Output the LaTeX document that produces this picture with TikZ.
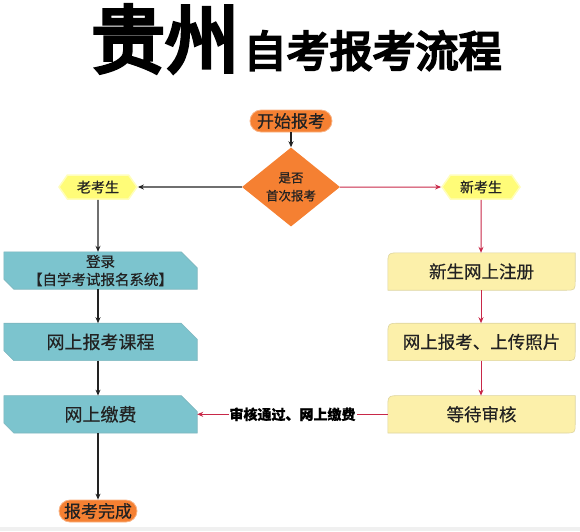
\documentclass[tikz,border=0pt]{standalone}
\usepackage{fontspec}
\setmainfont{Noto Sans CJK SC}[FakeBold=0.5]
\newfontfamily\titlefont{Noto Sans CJK SC}[FakeBold=5]
\usetikzlibrary{shapes.geometric,shapes.symbols,arrows.meta,positioning,backgrounds}

\definecolor{flowOrange}{RGB}{245,128,50}
\definecolor{flowYellow}{RGB}{255,252,120}
\definecolor{flowTeal}{RGB}{124,196,206}
\definecolor{flowCream}{RGB}{252,240,170}
\definecolor{flowRed}{RGB}{200,40,72}
\definecolor{flowText}{RGB}{34,34,34}

\begin{document}
\begin{tikzpicture}[
    x=1pt, y=-1pt,
    node distance=34pt,
    pill/.style={rectangle, rounded corners=11pt, fill=flowOrange, draw=flowOrange!60!white, line width=0.8pt, minimum width=82pt, minimum height=22pt, inner sep=0pt, text=flowText, font=\fontsize{17}{19}\selectfont},
    decision/.style={diamond, fill=flowOrange, inner sep=0pt, minimum width=98pt, minimum height=60pt, align=center, text=flowText, font=\fontsize{12.5}{18}\selectfont},
    tag/.style={signal, signal to=west and east, signal pointer angle=110, fill=flowYellow, draw=flowYellow!50!white, line width=1.5pt, minimum width=78pt, minimum height=24pt, inner sep=0pt, text=flowText, font=\fontsize{14}{16}\selectfont},
    oldbox/.style={rectangle, minimum width=193pt, minimum height=37pt, inner sep=0pt, align=center, text=flowText, font=\fontsize{18}{20}\selectfont},
    newbox/.style={rectangle, minimum width=187pt, minimum height=37pt, inner sep=0pt, align=center, text=flowText, font=\fontsize{17.5}{20}\selectfont},
    oldshape/.style={fill=flowTeal, draw=flowTeal!80!gray, line width=0.6pt},
    newshape/.style={fill=flowCream, draw=flowCream!75!gray, line width=0.6pt},
    blackarrow/.style={-{Stealth[length=6pt, width=5pt]}, line width=1.2pt, draw=flowText},
    redarrow/.style={-{Stealth[length=6pt, width=5pt]}, line width=1pt, draw=flowRed},
    edgelabel/.style={fill=white, inner sep=1pt, text=black, font=\bfseries\fontsize{14}{15}\selectfont}
]
    \useasboundingbox (0,0) rectangle (580,531);

    % title
    \node [inner sep=0pt, anchor=base west] (title1) at (91,67) {\titlefont\fontsize{74}{74}\selectfont 贵州};
    \node [inner sep=0pt, right=4pt of title1.base east, anchor=base west] (title2) {\titlefont\fontsize{43}{43}\selectfont 自考报考流程};

    % start and decision
    \node [pill] (start) at (291,121) {开始报考};
    \node [decision] (decide) at (291,187) {是否\\首次报考};
    \node [tag] (old) at (98,187) {老考生};
    \node [tag] (new) at (481,187) {新考生};

    % old candidates
    \node [oldbox, font=\fontsize{14.5}{18}\selectfont] (login) at (100.5,270.5) {登录\\【自学考试报名系统】};
    \node [oldbox, below=of login] (course) {网上报考课程};
    \node [oldbox, below=35pt of course] (pay) {网上缴费};
    \node [pill, minimum width=78pt] (finish) at (98,511) {报考完成};

    % new candidates
    \node [newbox] (reg) at (481.5,271.5) {新生网上注册};
    \node [newbox, below=33pt of reg] (upload) {网上报考、上传照片};
    \node [newbox, below=35pt of upload] (wait) {等待审核};

    \begin{scope}[on background layer]
        \fill [black!6] (0,527) rectangle (580,531);
        \foreach \n in {login,course,pay}
            \filldraw [oldshape] (\n.north west) -- ([xshift=-16pt]\n.north east) -- ([yshift=-16pt]\n.north east)
                -- (\n.south east) -- ([xshift=10pt]\n.south west) -- ([yshift=10pt]\n.south west) -- cycle;
        \foreach \n in {reg,upload,wait}
            \filldraw [newshape] (\n.north east) -- ([yshift=10pt]\n.south east)
                .. controls (\n.south east) .. ([xshift=-10pt]\n.south east) -- (\n.south west)
                -- ([yshift=-13pt]\n.north west) .. controls (\n.north west) .. ([xshift=13pt]\n.north west) -- cycle;
    \end{scope}

    \draw [blackarrow] (start) -- (decide);
    \draw [blackarrow] (decide) -- (old);
    \draw [redarrow] (decide) -- (new);

    \draw [blackarrow] (old) -- (old |- login.north);
    \draw [blackarrow] (old |- login.south) -- (old |- course.north);
    \draw [blackarrow] (old |- course.south) -- (old |- pay.north);
    \draw [blackarrow] (old |- pay.south) -- (finish);

    \draw [redarrow] (new) -- (new |- reg.north);
    \draw [redarrow] (new |- reg.south) -- (new |- upload.north);
    \draw [redarrow] (new |- upload.south) -- (new |- wait.north);
    \draw [redarrow] (wait) -- node [edgelabel] {审核通过、网上缴费} (wait -| pay.east);
\end{tikzpicture}
\end{document}
